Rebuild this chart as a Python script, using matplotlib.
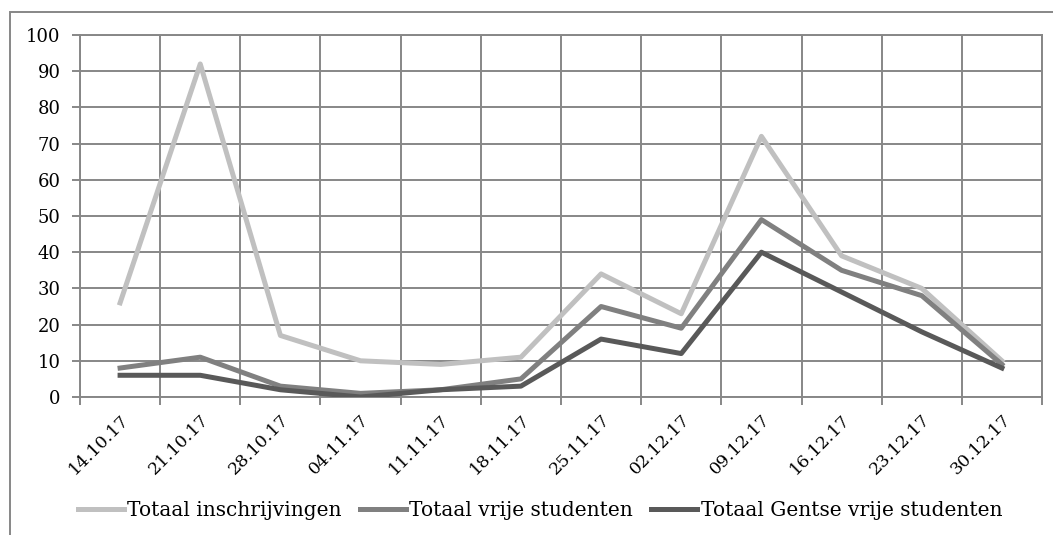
"""Inschrijvingen per week (okt-dec 2017)."""
import matplotlib.pyplot as plt
from matplotlib.patches import Rectangle
import numpy as np

weeks = ["14.10.17", "21.10.17", "28.10.17", "04.11.17", "11.11.17", "18.11.17",
         "25.11.17", "02.12.17", "09.12.17", "16.12.17", "23.12.17", "30.12.17"]
totaal = [26, 92, 17, 10, 9, 11, 34, 23, 72, 39, 30, 10]
vrije = [8, 11, 3, 1, 2, 5, 25, 19, 49, 35, 28, 9]
gentse = [6, 6, 2, 0, 2, 3, 16, 12, 40, 29, 18, 8]

grid_c = "#878787"
plt.rcParams["font.family"] = ["DejaVu Serif"]
plt.rcParams["font.size"] = 13

fig = plt.figure(figsize=(10.53, 5.35), dpi=100)
ax = fig.add_axes([80 / 1053, 1 - 397 / 535, (1042 - 80) / 1053, (397 - 35) / 535])

x = np.arange(len(weeks))
ax.plot(x, totaal, color="#c0c0c0", lw=3.6, label="Totaal inschrijvingen", zorder=3)
ax.plot(x, vrije, color="#808080", lw=3.6, label="Totaal vrije studenten", zorder=4)
ax.plot(x, gentse, color="#595959", lw=3.6, label="Totaal Gentse vrije studenten", zorder=5)

ax.set_xlim(-0.5, len(weeks) - 0.5)
ax.set_ylim(0, 100)
ax.set_yticks(np.arange(0, 101, 10))
ax.set_xticks(x)
ax.set_xticklabels(weeks, rotation=45, ha="right", rotation_mode="anchor", fontsize=12.5)
ax.set_xticks(np.arange(-0.5, len(weeks)), minor=True)
ax.tick_params(axis="x", which="major", length=0, pad=10)
ax.tick_params(axis="x", which="minor", length=6, width=1.4, color=grid_c)
ax.tick_params(axis="y", length=6, width=1.4, color=grid_c, pad=8)
ax.grid(True, axis="y", which="major", color=grid_c, lw=1.4)
ax.grid(True, axis="x", which="minor", color=grid_c, lw=1.4)
ax.set_axisbelow(True)
for s in ax.spines.values():
    s.set_color(grid_c)
    s.set_linewidth(1.4)

fig.legend(loc="center", bbox_to_anchor=(540 / 1053, 1 - 511 / 535), ncol=3, frameon=False,
           handlelength=2.3, handletextpad=0.15, columnspacing=0.9, fontsize=14.5)

fig.patches.append(Rectangle((10 / 1053, -0.1), 1.2, 1.1 - 12 / 535,
                             transform=fig.transFigure, fill=False,
                             edgecolor=grid_c, lw=1.4))

fig.savefig("out.png", dpi=100)
